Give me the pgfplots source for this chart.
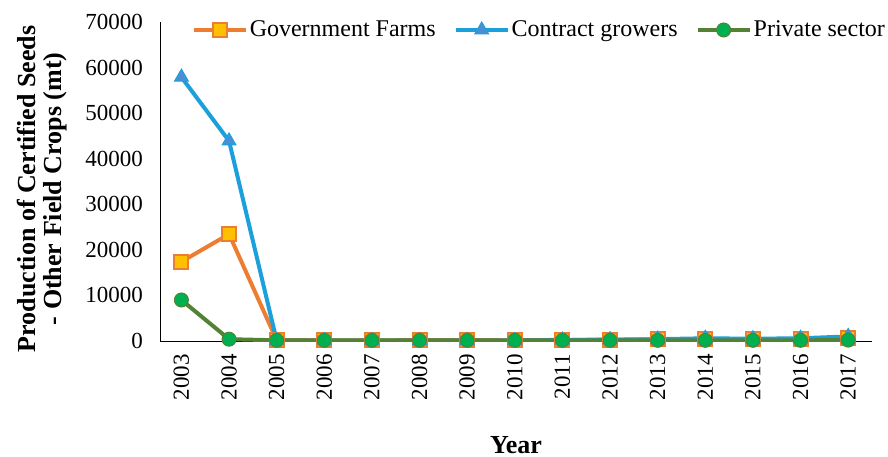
\documentclass[border=0pt]{standalone}
\usepackage{pgfplots}
\pgfplotsset{compat=1.18}
\usepackage{fontspec}
\setmainfont{Liberation Serif}
\definecolor{gov}{HTML}{ED7D31}
\definecolor{govfill}{HTML}{FFC000}
\definecolor{con}{HTML}{1CA0DC}
\definecolor{confill}{HTML}{4A8FD4}
\definecolor{pri}{HTML}{548235}
\definecolor{prifill}{HTML}{00B050}
\begin{document}
\begin{tikzpicture}
\begin{axis}[
  scale only axis, width=356pt, height=159.5pt,
  xmin=-0.45, xmax=14.5, ymin=0, ymax=70000,
  xtick={0,...,14},
  xticklabels={2003,2004,2005,2006,2007,2008,2009,2010,2011,2012,2013,2014,2015,2016,2017},
  x tick label style={rotate=90, anchor=east, font=\fontsize{11.5}{12}\selectfont},
  ytick={0,10000,...,70000},
  y tick label style={font=\fontsize{11.5}{13}\selectfont},
  /pgf/number format/assume math mode=true,
  /pgf/number format/1000 sep={},
  scaled y ticks=false,
  axis lines*=left,
  major tick length=0pt,
  xticklabel shift=3pt,
  yticklabel shift=5pt,
  ylabel={\bfseries\fontsize{13}{12.5}\selectfont\begin{tabular}{@{}c@{}}Production of Certified Seeds\\ - Other Field Crops (mt)\end{tabular}},
  ylabel style={at={(axis description cs:0,0.477)}, anchor=south, yshift=42pt},
  xlabel={\bfseries\fontsize{13}{14}\selectfont Year},
  xlabel style={at={(axis description cs:0.5,0)}, anchor=center, yshift=-52pt},
  legend style={draw=none, fill=none, at={(axis description cs:1.03,0.975)}, anchor=east,
    legend columns=3, font=\fontsize{12}{13}\selectfont,
    nodes={inner xsep=1pt},
    /tikz/every odd column/.append style={column sep=0pt},
    /tikz/every even column/.append style={column sep=8pt}},
  legend image code/.code={\draw[mark repeat=2,mark phase=2] plot coordinates {(0pt,0pt) (13pt,0pt) (26pt,0pt)};},
  legend cell align=left,
  every axis plot/.append style={line width=2pt},
]
\addplot[gov, mark=square*, mark size=3.5pt, mark options={fill=govfill, draw=gov, line width=1pt}] coordinates {
(0,17400) (1,23450) (2,200) (3,150) (4,150) (5,180) (6,200) (7,150) (8,250) (9,300) (10,350) (11,400) (12,350) (13,380) (14,600)};
\addlegendentry{Government Farms}
\addplot[con, mark=triangle*, mark size=4pt, mark options={fill=confill, draw=con, line width=0.5pt}] coordinates {
(0,57900) (1,43900) (2,100) (3,100) (4,100) (5,100) (6,100) (7,100) (8,200) (9,300) (10,400) (11,600) (12,500) (13,600) (14,1000)};
\addlegendentry{Contract growers}
\addplot[pri, mark=*, mark size=3.5pt, mark options={fill=prifill, draw=pri, line width=0.5pt}] coordinates {
(0,9000) (1,400) (2,150) (3,150) (4,150) (5,150) (6,150) (7,150) (8,150) (9,150) (10,150) (11,150) (12,150) (13,150) (14,200)};
\addlegendentry{Private sector}
\end{axis}
\pgfresetboundingbox
\path (current axis.south west) ++(-80pt,-57.5pt) rectangle ++(444pt,228pt);
\end{tikzpicture}
\end{document}
